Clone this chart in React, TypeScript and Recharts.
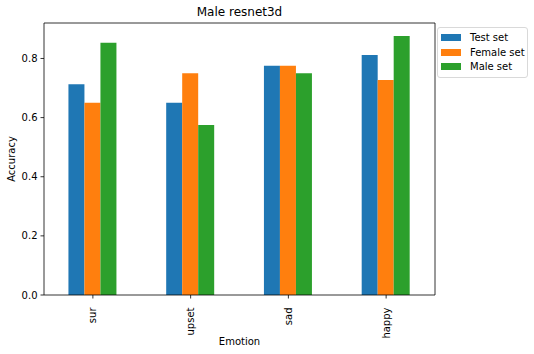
import React from "react";
import { BarChart, Bar, XAxis, YAxis } from "recharts";

const emotions = ["sur", "upset", "sad", "happy"];
const testSet = [0.713, 0.65, 0.775, 0.812];
const femaleSet = [0.65, 0.75, 0.775, 0.727];
const maleSet = [0.853, 0.575, 0.75, 0.876];
const yTicks = [0, 0.2, 0.4, 0.6, 0.8];

const seriesNames = ["Test set", "Female set", "Male set"];
const colors = ["#1f77b4", "#ff7f0e", "#2ca02c"];

const data = emotions.map((e, i) => ({
  emotion: e,
  test: testSet[i],
  female: femaleSet[i],
  male: maleSet[i],
}));

const font = "'DejaVu Sans', sans-serif";

function XTick(props: any) {
  const { x, y, payload } = props;
  return (
    <g transform={`translate(${x},${y + 7})`}>
      <text
        transform="rotate(-90)"
        textAnchor="end"
        dy="0.35em"
        fontSize={10}
        fontFamily={font}
        fill="#000"
      >
        {payload.value}
      </text>
    </g>
  );
}

function LegendBox() {
  return (
    <div
      style={{
        position: "absolute",
        left: 437,
        top: 27,
        width: 91,
        boxSizing: "border-box",
        border: "1px solid #d9d9d9",
        borderRadius: 3,
        background: "#fff",
        padding: "2px 2px 3px 3px",
        fontFamily: font,
        fontSize: 10,
        color: "#000",
        whiteSpace: "nowrap",
      }}
    >
      {seriesNames.map((n, i) => (
        <div key={n} style={{ display: "flex", alignItems: "center", height: 14.8 }}>
          <span
            style={{
              display: "inline-block",
              flexShrink: 0,
              width: 20,
              height: 7,
              background: colors[i],
              marginRight: 9,
            }}
          />
          <span style={{ flexShrink: 0 }}>{n}</span>
        </div>
      ))}
    </div>
  );
}

export default function App() {
  return (
    <div style={{ position: "absolute", left: 0, top: 0, width: 534, height: 354, background: "#fff" }}>
      <BarChart
        width={534}
        height={354}
        data={data}
        margin={{ top: 22, right: 98, bottom: 0, left: 8 }}
        barCategoryGap="25%"
        barGap={0}
      >
        <XAxis
          dataKey="emotion"
          height={59}
          tick={<XTick />}
          tickSize={3.5}
          stroke="#000"
          strokeWidth={0.8}
          interval={0}
        />
        <XAxis
          xAxisId="top"
          orientation="top"
          dataKey="emotion"
          height={1}
          tick={false}
          tickLine={false}
          stroke="#000"
          strokeWidth={0.8}
        />
        <YAxis
          width={36}
          domain={[0, 0.92]}
          ticks={yTicks}
          tickFormatter={(v: number) => v.toFixed(1)}
          tickSize={3.5}
          tickMargin={3}
          tick={{ fontSize: 10, fontFamily: font, fill: "#000" }}
          stroke="#000"
          strokeWidth={0.8}
        />
        <YAxis
          yAxisId="right"
          orientation="right"
          width={1}
          domain={[0, 0.92]}
          tick={false}
          tickLine={false}
          stroke="#000"
          strokeWidth={0.8}
        />
        <Bar dataKey="test" name={seriesNames[0]} fill={colors[0]} isAnimationActive={false} />
        <Bar dataKey="female" name={seriesNames[1]} fill={colors[1]} isAnimationActive={false} />
        <Bar dataKey="male" name={seriesNames[2]} fill={colors[2]} isAnimationActive={false} />
      </BarChart>
      <LegendBox />
      <svg
        width={534}
        height={354}
        style={{ position: "absolute", left: 0, top: 0, pointerEvents: "none" }}
      >
        <text x={239.5} y={16} textAnchor="middle" fontSize={12} fontFamily={font} fill="#000">
          Male resnet3d
        </text>
        <text x={239.5} y={345} textAnchor="middle" fontSize={10} fontFamily={font} fill="#000">
          Emotion
        </text>
        <text
          transform="translate(15,159) rotate(-90)"
          textAnchor="middle"
          fontSize={10}
          fontFamily={font}
          fill="#000"
        >
          Accuracy
        </text>
      </svg>
    </div>
  );
}
